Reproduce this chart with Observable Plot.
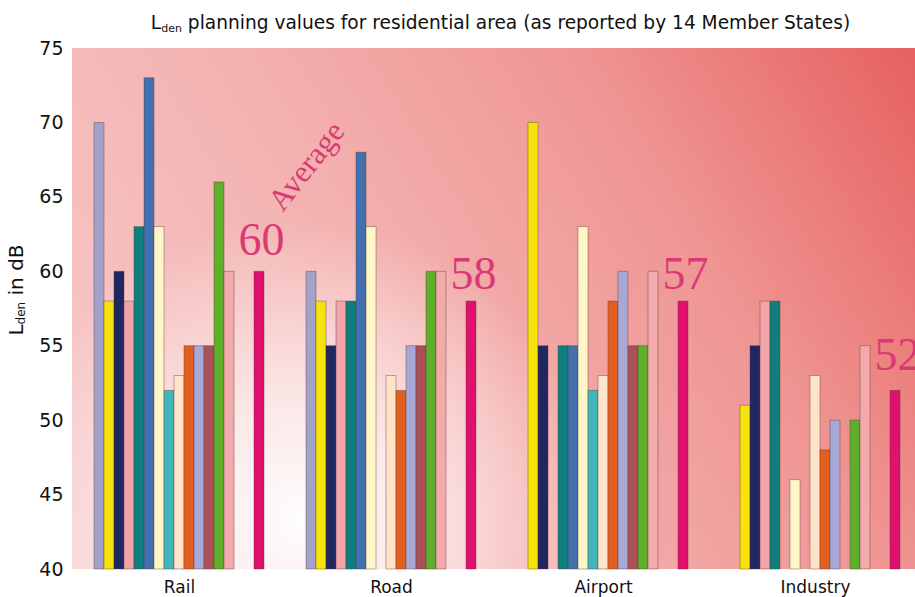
<!DOCTYPE html>
<html><head><meta charset="utf-8">
<script src="https://cdn.jsdelivr.net/npm/d3@7"></script>
<script src="https://cdn.jsdelivr.net/npm/@observablehq/plot@0.6"></script>
<style>
html,body{margin:0;padding:0;background:#fff;overflow:hidden;}
#title{box-sizing:border-box;height:38px;width:921px;padding-left:80px;padding-top:8px;line-height:30px;text-align:center;
  font-family:"DejaVu Sans",Verdana,sans-serif;font-size:18.6px;color:#111;white-space:nowrap;}
#title sub{font-size:11px;vertical-align:-3px;line-height:0;}
</style></head><body>
<div id="title">L<sub>den</sub> planning values for residential area (as reported by 14 Member States)</div>
<div id="chart"></div>
<script>
// Categories (noise sources)
const categories = ["Rail", "Road", "Airport", "Industry"];
// Lden planning values per member state (14 states, null = not reported)
const rail     = [70, 58, 60, 58, 63, 73, 63, 52, 53, 55, 55, 55, 66, 60];
const road     = [60, 58, 55, 58, 58, 68, 63, null, 53, 52, 55, 55, 60, 60];
const airport  = [null, 70, 55, null, 55, 55, 63, 52, 53, 58, 60, 55, 55, 60];
const industry = [null, 51, 55, 58, 58, null, 46, null, 53, 48, 50, null, 50, 55];
// Average bars and their printed labels
const averages = [60, 58, 58, 52];
const averageLabels = ["60", "58", "57", "52"];
const averageLabelLevels = [62.1, 59.8, 59.8, 54.4];
// Colors of the 14 member states, then the average
const stateColors = ["#a3a3c9", "#f7e20c", "#1f2660", "#f0a4a8", "#0e7f7c", "#4370ae", "#fff6c8",
                     "#40b6bb", "#fde3c8", "#e2601f", "#a8a8d6", "#a85258", "#5fae2c", "#f2aaaa"];
const averageColor = "#e0106e";
const yTicks = [40, 45, 50, 55, 60, 65, 70, 75];
const slots = d3.range(17);
const averageSlot = 16;

const seriesByCategory = [rail, road, airport, industry];
const rows = [];
categories.forEach((c, ci) => {
  seriesByCategory[ci].forEach((v, si) => {
    if (v != null) rows.push({category: c, slot: si, value: v, color: stateColors[si]});
  });
  rows.push({category: c, slot: averageSlot, value: averages[ci], color: averageColor});
});
const labelRows = categories.map((c, ci) => ({category: c, slot: averageSlot, level: averageLabelLevels[ci], text: averageLabels[ci]}));
const averageNote = [{category: "Road", slot: 0, level: 67.1, text: "Average"}];

const W = 921, H = 559, mL = 72, mR = 0, mT = 10, mB = 28;
const plot = Plot.plot({
  width: W, height: H,
  marginLeft: mL, marginRight: mR, marginTop: mT, marginBottom: mB,
  style: {background: "transparent", overflow: "visible", maxWidth: "none", fontFamily: "'DejaVu Sans', Verdana, sans-serif", fontSize: "17px", color: "#111"},
  fx: {domain: categories, padding: 0, axis: "bottom", tickSize: 0, tickPadding: 11, label: null},
  x: {domain: slots, paddingInner: 0, paddingOuter: 2.1, axis: null},
  y: {domain: [40, 75], ticks: yTicks, tickSize: 0, tickPadding: 10, label: null},
  color: {type: "identity"},
  marks: [
    Plot.barY(rows, {fx: "category", x: "slot", y1: 40, y2: "value", fill: "color",
      stroke: "#5a3a3a", strokeOpacity: 0.45, strokeWidth: 0.9}),
    Plot.text(labelRows, {fx: "category", x: "slot", y: "level", text: "text", dx: 2,
      fontFamily: "'Liberation Serif', 'Times New Roman', serif", fontSize: 46, fill: "#d93a76", lineAnchor: "middle"}),
    Plot.text(averageNote, {fx: "category", x: "slot", y: "level", text: "text", dx: -5, rotate: -52,
      fontFamily: "'Liberation Serif', 'Times New Roman', serif", fontSize: 31, fill: "#d93a76", lineAnchor: "middle"})
  ]
});

// larger y tick labels
d3.select(plot).selectAll('g[aria-label="y-axis tick label"]').attr("font-size", 19);

// background gradient behind the plot area
const ns = "http://www.w3.org/2000/svg";
const defs = document.createElementNS(ns, "defs");
defs.innerHTML = `
<linearGradient id="bgLin" gradientUnits="userSpaceOnUse" x1="${mL}" y1="${H - mB}" x2="${W}" y2="${mT}">
  <stop offset="0" stop-color="#f8cccc"/>
  <stop offset="0.4" stop-color="#f3b2b0"/>
  <stop offset="0.7" stop-color="#ef9694"/>
  <stop offset="1" stop-color="#e6605e"/>
</linearGradient>
<radialGradient id="bgGlow" gradientUnits="userSpaceOnUse" cx="300" cy="${H - mB - 50}" r="300">
  <stop offset="0" stop-color="#fff" stop-opacity="0.97"/>
  <stop offset="0.45" stop-color="#fff" stop-opacity="0.6"/>
  <stop offset="1" stop-color="#fff" stop-opacity="0"/>
</radialGradient>`;
const bg = document.createElementNS(ns, "g");
for (const f of ["url(#bgLin)", "url(#bgGlow)"]) {
  const r = document.createElementNS(ns, "rect");
  r.setAttribute("x", mL); r.setAttribute("y", mT);
  r.setAttribute("width", W - mL - mR); r.setAttribute("height", H - mT - mB);
  r.setAttribute("fill", f);
  bg.appendChild(r);
}
plot.insertBefore(bg, plot.firstChild);
plot.insertBefore(defs, plot.firstChild);

// y axis label with subscript
const yl = document.createElementNS(ns, "text");
yl.setAttribute("transform", `translate(17,${290 - 38}) rotate(-90)`);
yl.setAttribute("text-anchor", "middle");
yl.setAttribute("dominant-baseline", "middle");
yl.setAttribute("fill", "#111");
yl.setAttribute("font-size", 20);
yl.innerHTML = `<tspan>L</tspan><tspan font-size="12" dy="4">den</tspan><tspan dy="-4"> in dB</tspan>`;
plot.appendChild(yl);

document.getElementById("chart").appendChild(plot);
</script>
</body></html>
